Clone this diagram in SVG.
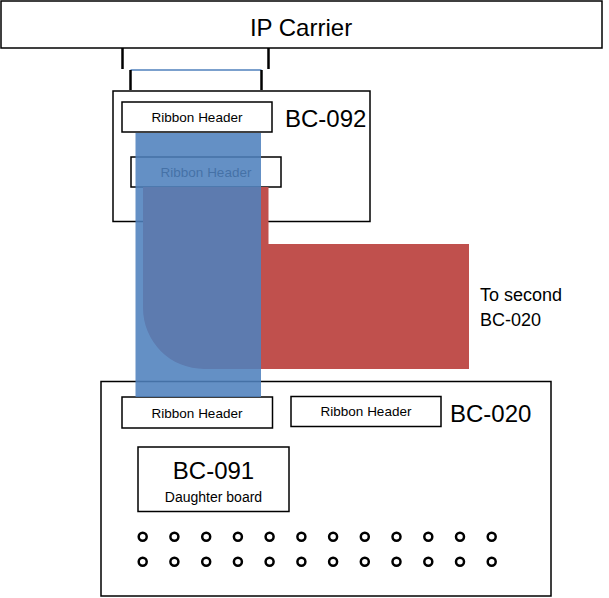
<svg xmlns="http://www.w3.org/2000/svg" width="609" height="598" viewBox="0 0 609 598">
<style>
  .box { fill: #ffffff; stroke: #000000; stroke-width: 1.5; }
  .t { font-family: "Liberation Sans", Arial, sans-serif; fill: #000000; }
  .big { font-size: 24px; }
  .rh { font-size: 13.5px; text-anchor: middle; }
  .pin { fill: none; stroke: #000000; stroke-width: 2.5; }
  .brk { stroke: #000000; stroke-width: 2.5; fill: none; }
</style>
<rect x="0" y="0" width="609" height="598" fill="#ffffff"/>

<g id="ip-carrier">
  <rect class="box" x="1" y="1" width="601" height="47"/>
  <text class="t big" x="301" y="36" text-anchor="middle">IP Carrier</text>
</g>

<g id="bc-092">
  <rect class="box" x="113" y="91" width="257" height="130.5"/>
  <text class="t big" x="285" y="127">BC-092</text>
</g>

<g id="bc-020">
  <rect class="box" x="101" y="381.5" width="450" height="214.5"/>
  <text class="t big" x="450" y="422">BC-020</text>
</g>

<g id="ribbon-header-1">
  <rect class="box" x="122" y="102" width="150" height="30"/>
  <text class="t rh" x="197" y="122">Ribbon Header</text>
</g>

<g id="ribbon-header-2">
  <rect class="box" x="131" y="157" width="150" height="30"/>
  <text class="t rh" x="206" y="177">Ribbon Header</text>
</g>

<g id="ribbon-header-3">
  <rect class="box" x="122" y="397" width="150.5" height="31"/>
  <text class="t rh" x="197" y="417.5">Ribbon Header</text>
</g>

<g id="ribbon-header-4">
  <rect class="box" x="291" y="396.5" width="150" height="30"/>
  <text class="t rh" x="366" y="416">Ribbon Header</text>
</g>

<g id="bc-091">
  <rect class="box" x="138" y="447" width="151" height="64.5"/>
  <text class="t big" x="213.5" y="479" text-anchor="middle">BC-091</text>
  <text class="t" x="213.5" y="502" font-size="14" text-anchor="middle">Daughter board</text>
</g>

<g id="pins">
  <circle class="pin" cx="142.7" cy="536.7" r="4"/>
  <circle class="pin" cx="174.4" cy="536.7" r="4"/>
  <circle class="pin" cx="206.2" cy="536.7" r="4"/>
  <circle class="pin" cx="237.9" cy="536.7" r="4"/>
  <circle class="pin" cx="269.6" cy="536.7" r="4"/>
  <circle class="pin" cx="301.4" cy="536.7" r="4"/>
  <circle class="pin" cx="333.1" cy="536.7" r="4"/>
  <circle class="pin" cx="364.8" cy="536.7" r="4"/>
  <circle class="pin" cx="396.5" cy="536.7" r="4"/>
  <circle class="pin" cx="428.3" cy="536.7" r="4"/>
  <circle class="pin" cx="460.0" cy="536.7" r="4"/>
  <circle class="pin" cx="491.7" cy="536.7" r="4"/>
  <circle class="pin" cx="142.7" cy="561.7" r="4"/>
  <circle class="pin" cx="174.4" cy="561.7" r="4"/>
  <circle class="pin" cx="206.2" cy="561.7" r="4"/>
  <circle class="pin" cx="237.9" cy="561.7" r="4"/>
  <circle class="pin" cx="269.6" cy="561.7" r="4"/>
  <circle class="pin" cx="301.4" cy="561.7" r="4"/>
  <circle class="pin" cx="333.1" cy="561.7" r="4"/>
  <circle class="pin" cx="364.8" cy="561.7" r="4"/>
  <circle class="pin" cx="396.5" cy="561.7" r="4"/>
  <circle class="pin" cx="428.3" cy="561.7" r="4"/>
  <circle class="pin" cx="460.0" cy="561.7" r="4"/>
  <circle class="pin" cx="491.7" cy="561.7" r="4"/>
</g>

<g id="connectors">
  <line class="brk" x1="122.5" y1="48" x2="122.5" y2="69"/>
  <line class="brk" x1="268.5" y1="48" x2="268.5" y2="69"/>
  <line x1="130.5" y1="70" x2="261.5" y2="70" stroke="#4F81BD" stroke-width="1.5"/>
  <line class="brk" x1="130.5" y1="70" x2="130.5" y2="90"/>
  <line class="brk" x1="261.5" y1="70" x2="261.5" y2="90"/>
  <path id="red-cable" d="M143,187 H268.5 V244 H469 V369 H204 A61,61 0 0 1 143,308 Z" fill="#C0504D"/>
  <rect id="blue-cable" x="135.5" y="133" width="125.5" height="264" fill="#4F81BD" fill-opacity="0.88"/>
</g>

<g id="to-second-label">
  <text class="t" x="480" y="300.5" font-size="18">To second</text>
  <text class="t" x="480" y="325.5" font-size="18">BC-020</text>
</g>
</svg>
